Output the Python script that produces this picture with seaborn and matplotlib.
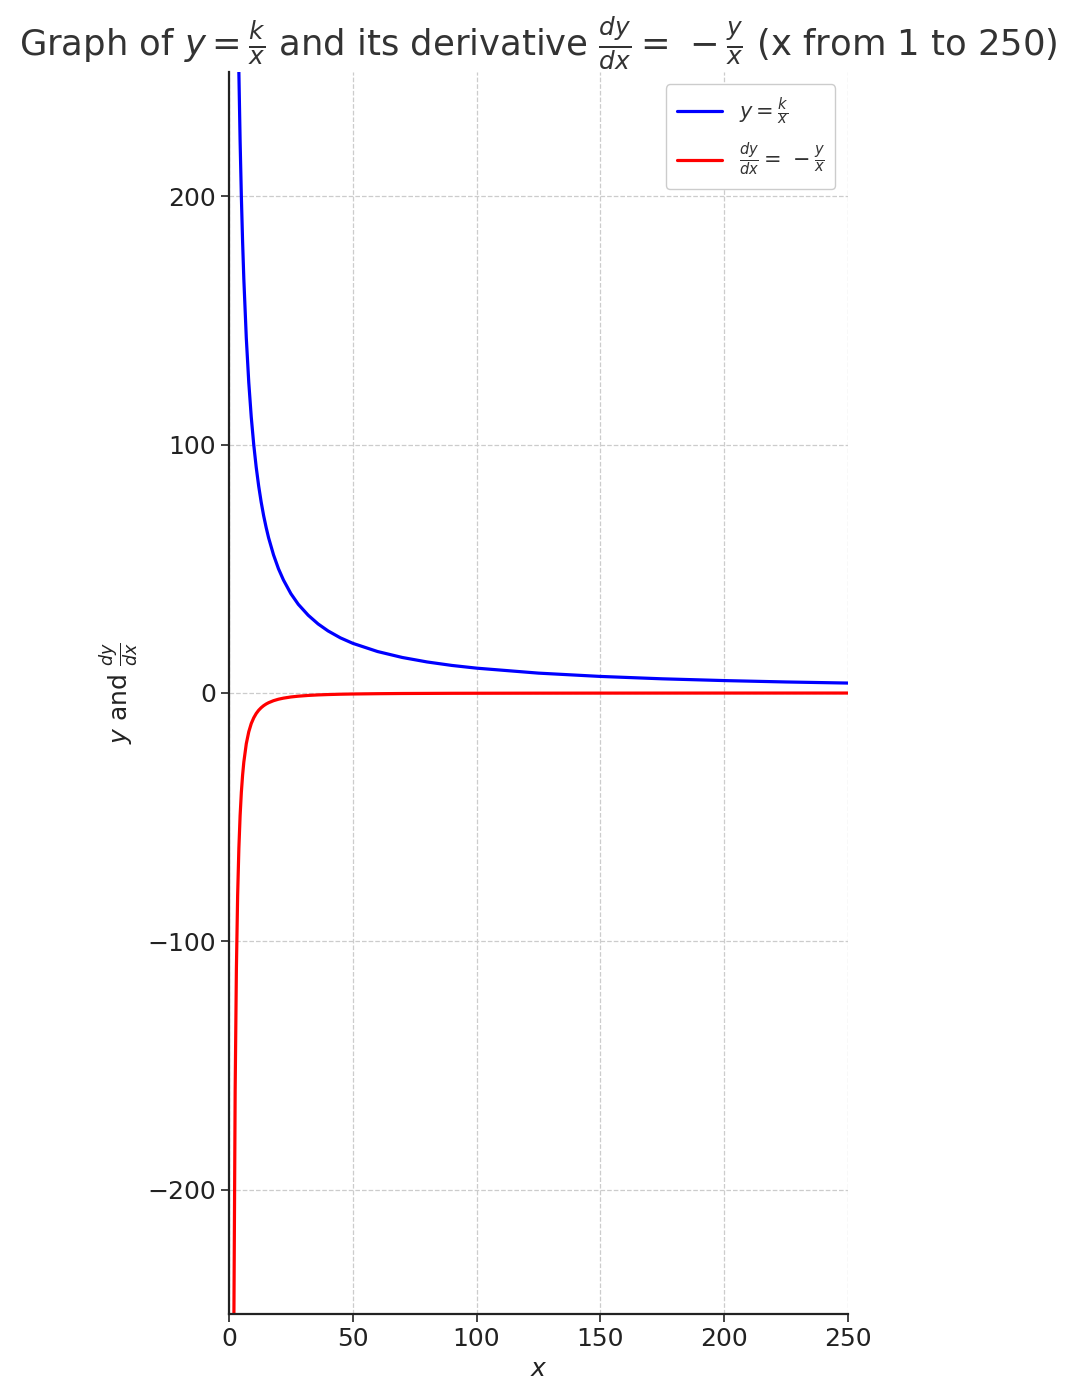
import numpy as np
import pandas as pd
import matplotlib
matplotlib.use("Agg")
import matplotlib.pyplot as plt
import seaborn as sns

# values (k = 1000)
x_vals = [1, 1.5, 2, 2.5, 3, 3.5, 4, 4.5, 5, 5.5, 6, 7, 8, 9, 10, 11, 12, 13, 14, 15,
          16, 18, 20, 22, 25, 28, 32, 36, 40, 45, 50, 60, 70, 80, 90, 100, 125, 150,
          175, 200, 225, 250]
y_vals = [1000, 666.7, 500, 400, 333.3, 285.7, 250, 222.2, 200, 181.8, 166.7, 142.9,
          125, 111.1, 100, 90.9, 83.3, 76.9, 71.4, 66.7, 62.5, 55.6, 50, 45.5, 40,
          35.7, 31.3, 27.8, 25, 22.2, 20, 16.7, 14.3, 12.5, 11.1, 10, 8, 6.67, 5.71,
          5, 4.44, 4]
dydx_vals = [-1000, -444.4, -250, -160, -111.1, -81.6, -62.5, -49.4, -40, -33.1, -27.8,
             -20.4, -15.6, -12.3, -10, -8.26, -6.94, -5.92, -5.10, -4.44, -3.91, -3.09,
             -2.5, -2.07, -1.6, -1.28, -0.98, -0.77, -0.625, -0.49, -0.4, -0.28, -0.20,
             -0.16, -0.12, -0.1, -0.064, -0.044, -0.033, -0.025, -0.020, -0.016]

x_ticks = [0, 50, 100, 150, 200, 250]
y_ticks = [-200, -100, 0, 100, 200]

df = pd.DataFrame({"x": x_vals, "y": y_vals, "dydx": dydx_vals})

sns.set_style("ticks")
plt.rcParams['font.family'] = ['DejaVu Sans']
plt.rcParams['text.color'] = '#333333'
plt.rcParams['axes.labelcolor'] = '#222222'
plt.rcParams['xtick.color'] = '#222222'
plt.rcParams['ytick.color'] = '#222222'

fig = plt.figure(figsize=(10.78, 14), dpi=100)
ax = fig.add_axes([0.2124, 0.0614, 0.5742, 0.8872])

sns.lineplot(data=df, x="x", y="y", color="blue", linewidth=2.3, ax=ax,
             label=r"$y = \frac{k}{x}$")
sns.lineplot(data=df, x="x", y="dydx", color="red", linewidth=2.3, ax=ax,
             label=r"$\frac{dy}{dx} = \,-\frac{y}{x}$")

ax.set_xlim(0, 250)
ax.set_ylim(-250, 250)
ax.set_xticks(x_ticks)
ax.set_yticks(y_ticks)
ax.tick_params(labelsize=18, length=6, width=1.2)
ax.grid(True, linestyle="--", color="#cccccc", linewidth=0.9)
sns.despine(ax=ax)
for s in ["left", "bottom"]:
    ax.spines[s].set_linewidth(1.6)
    ax.spines[s].set_color("#222222")

ax.set_xlabel(r"$x$", fontsize=18)
ax.set_ylabel(r"$y$ and $\frac{dy}{dx}$", fontsize=18)
ax.set_title(r"Graph of $y = \frac{k}{x}$ and its derivative $\frac{dy}{dx} = \,-\frac{y}{x}$ (x from 1 to 250)",
             fontsize=25.5, pad=8)

ax.legend(loc="upper right", fontsize=15, handlelength=2.2, borderpad=0.5,
          labelspacing=0.7, framealpha=1, borderaxespad=0.6)

fig.savefig("out.png", dpi=100)
